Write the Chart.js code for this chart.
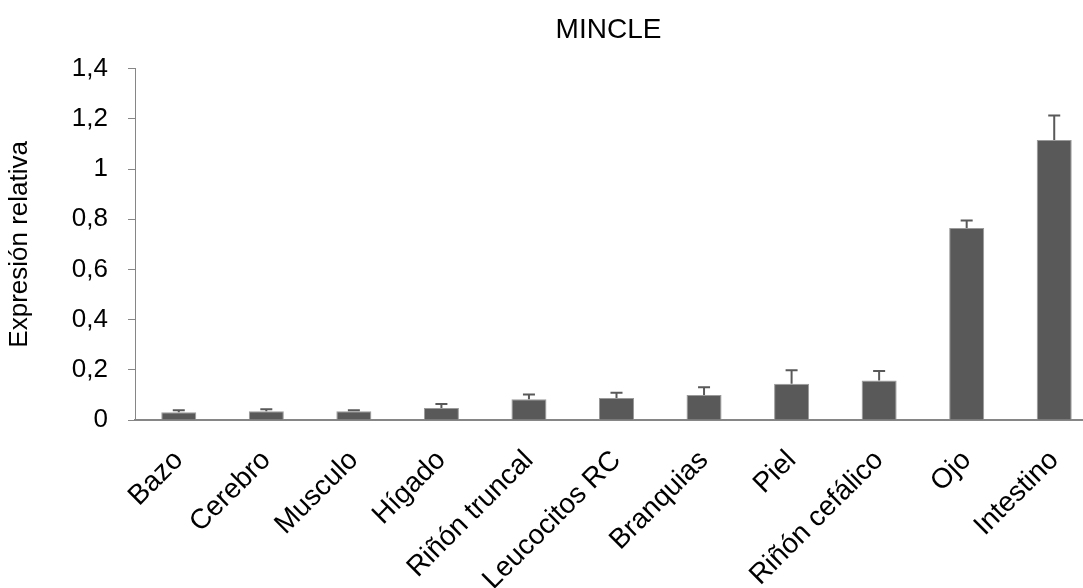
<!DOCTYPE html>
<html>
<head>
<meta charset="utf-8">
<script src="https://cdn.jsdelivr.net/npm/chart.js@4/dist/chart.umd.min.js"></script>
<style>
html,body{margin:0;padding:0;background:#fff;overflow:hidden;}
#wrap{width:1083px;height:588px;overflow:hidden;}
canvas{display:block;}
</style>
</head>
<body>
<div id="wrap"><canvas id="c" width="1098" height="588"></canvas></div>
<script>
const categories = ["Bazo","Cerebro","Musculo","Hígado","Riñón truncal","Leucocitos RC","Branquias","Piel","Riñón cefálico","Ojo","Intestino"];
const expression = [0.031,0.035,0.035,0.048,0.083,0.088,0.100,0.144,0.157,0.765,1.116];
const errorUp = [0.008,0.008,0.004,0.016,0.019,0.021,0.030,0.054,0.038,0.030,0.097];
const yTickValues = [0,0.2,0.4,0.6,0.8,1,1.2,1.4];
const yTickLabels = ["0","0,2","0,4","0,6","0,8","1","1,2","1,4"];

const FONT = 'Liberation Sans, Arial, sans-serif';

const errorBarPlugin = {
  id: 'errorBars',
  afterDatasetsDraw(chart) {
    const ctx = chart.ctx;
    const meta = chart.getDatasetMeta(0);
    const ys = chart.scales.y;
    ctx.save();
    ctx.strokeStyle = '#595959';
    ctx.lineWidth = 2;
    meta.data.forEach((bar, i) => {
      const v = expression[i];
      const yBase = ys.getPixelForValue(v);
      const yTop = ys.getPixelForValue(v + errorUp[i]);
      ctx.beginPath();
      ctx.moveTo(bar.x, yBase);
      ctx.lineTo(bar.x, yTop);
      ctx.moveTo(bar.x - 6, yTop);
      ctx.lineTo(bar.x + 6, yTop);
      ctx.stroke();
    });
    ctx.restore();
  }
};

// center the title over the visible part of the plot area, as in the reference
const titleOverPlot = {
  id: 'titleOverPlot',
  afterLayout(chart) {
    const t = chart.titleBlock;
    if (t) {
      t.left = chart.chartArea.left;
      t.right = 1082;
      t.width = t.right - t.left;
    }
  }
};

new Chart(document.getElementById('c'), {
  type: 'bar',
  data: {
    labels: categories,
    datasets: [{
      data: expression,
      backgroundColor: '#595959',
      borderColor: '#9a9a9a',
      borderWidth: 1,
      barPercentage: 0.4,
      categoryPercentage: 1.0
    }]
  },
  options: {
    responsive: false,
    animation: false,
    layout: { padding: { left: 0, right: 0, top: 0, bottom: 0 } },
    plugins: {
      legend: { display: false },
      tooltip: { enabled: false },
      title: {
        display: true,
        text: 'MINCLE',
        color: '#000',
        font: { family: FONT, size: 28, weight: 'normal' },
        padding: { top: 13, bottom: 22 }
      }
    },
    scales: {
      x: {
        grid: { display: false },
        border: { display: true, color: '#868686', width: 2 },
        ticks: {
          color: '#000',
          font: { family: FONT, size: 28 },
          maxRotation: 45,
          minRotation: 45,
          autoSkip: false,
          padding: 16,
          labelOffset: 0
        },
        afterFit(scale) { scale.height = 168; }
      },
      y: {
        min: 0,
        max: 1.4,
        afterBuildTicks(scale) { scale.ticks = yTickValues.map(v => ({ value: v })); },
        grid: { display: true, drawOnChartArea: false, drawTicks: true, tickLength: 7, color: '#868686' },
        border: { display: true, color: '#868686', width: 1 },
        ticks: {
          color: '#000',
          font: { family: FONT, size: 26 },
          padding: 20,
          callback(value) {
            const idx = yTickValues.findIndex(t => Math.abs(t - value) < 1e-9);
            return idx >= 0 ? yTickLabels[idx] : '';
          }
        },
        title: {
          display: true,
          text: 'Expresión relativa',
          color: '#000',
          font: { family: FONT, size: 26 },
          padding: { top: 4, bottom: 0 }
        },
        afterFit(scale) { scale.width = 135; }
      }
    }
  },
  plugins: [errorBarPlugin, titleOverPlot]
});
</script>
</body>
</html>
